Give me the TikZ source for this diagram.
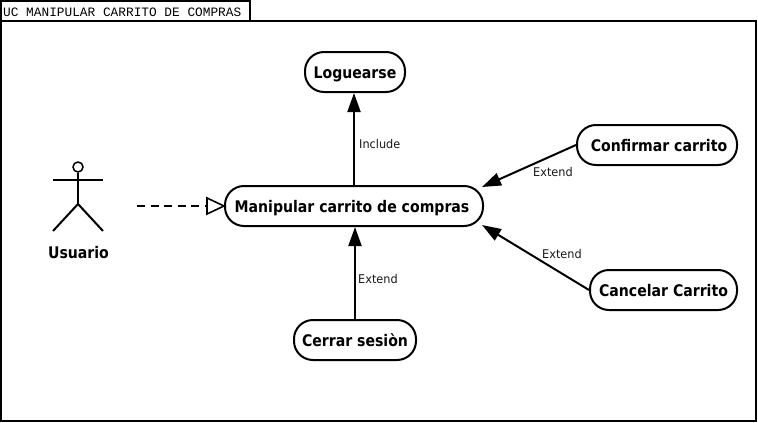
\documentclass[tikz,border=0pt]{standalone}
\usepackage{fontspec}
\setmainfont{DejaVu Sans}
\newfontfamily\ucbold[FakeStretch=0.88]{DejaVu Sans Bold}
\newfontfamily\lblfont[FakeStretch=0.94]{DejaVu Sans}
\newfontfamily\ttlfont{Liberation Mono}
\usetikzlibrary{arrows.meta}
\tikzset{
  x=1pt,y=-1pt,
  usecase/.style={draw=black,line width=2pt,rounded corners=19pt,fill=white,inner sep=0pt,anchor=center,text height=12pt,text depth=0pt,font=\ucbold\fontsize{16}{16}\selectfont},
  conn/.style={draw=black,line width=2pt,-{Triangle[length=19pt,width=13pt]}},
  gen/.style={draw=black,line width=1.6pt,dash pattern=on 8pt off 5.5pt},
  hollow/.style={draw=black,line width=1.6pt,fill=white},
  lbl/.style={inner sep=0pt,text=black!90,font=\lblfont\fontsize{12}{12}\selectfont},
  actorline/.style={draw=black,line width=2pt},
}
\begin{document}
\begin{tikzpicture}
\useasboundingbox (0,0) rectangle (758,423);
\fill[white] (0,0) rectangle (758,423);
% frame
\draw[line width=2pt] (1,21) rectangle (756,421);
\draw[line width=1.5pt] (1,21) -- (1,1) -- (250,1) -- (250,21);
\node[inner sep=0pt,anchor=west,font=\ttlfont\fontsize{12.8}{12.8}\selectfont] (title) at (3,12) {UC MANIPULAR CARRITO DE COMPRAS};
% use cases
\node[usecase,minimum width=100pt,minimum height=40pt] (log) at (355,72) {Loguearse};
\node[usecase,minimum width=258pt,minimum height=40pt] (man) at (354,206) {Manipular carrito de compras\kern4pt};
\node[usecase,minimum width=160pt,minimum height=40pt] (conf) at (657,145) {\kern4pt Confirmar carrito};
\node[usecase,minimum width=147pt,minimum height=40pt] (canc) at (663.5,290) {Cancelar Carrito};
\node[usecase,minimum width=122pt,minimum height=40pt] (cerr) at (355,340) {Cerrar sesiòn};
% actor
\node[draw=black,line width=1.5pt,circle,minimum size=10pt,inner sep=0pt] (head) at (78,167) {};
\coordinate (hip) at (78,204);
\coordinate (armL) at (53,180);
\coordinate (armR) at (103,180);
\coordinate (legL) at (53,231);
\coordinate (legR) at (103,231);
\draw[actorline] (head) -- (hip);
\draw[actorline] (armL) -- (armR);
\draw[actorline] (legL) -- (hip) -- (legR);
\node[inner sep=0pt,anchor=base,font=\ucbold\fontsize{16}{16}\selectfont] (usuario) at (78.5,258.5) {Usuario};
% connectors
\coordinate (genstart) at (137,206);
\coordinate (genbase) at (207,206);
\draw[gen] (genstart) -- (genbase);
\draw[hollow] (207,198) -- (man.west) -- (207,214) -- cycle;
\draw[conn] (man.north) -- (man.north |- log.south);
\draw[conn] (cerr.north) -- (cerr.north |- man.south);
\coordinate (tipA) at (482,187);
\coordinate (tipB) at (482,225);
\draw[conn] (conf.west) -- (tipA);
\draw[conn] (canc.west) -- (tipB);
% labels
\node[lbl,anchor=west] (linc) at (359,144) {Include};
\node[lbl,anchor=west] (lext1) at (358,279) {Extend};
\node[lbl,anchor=west] (lext2) at (533,172) {Extend};
\node[lbl,anchor=west] (lext3) at (542,254) {Extend};
\end{tikzpicture}
\end{document}
